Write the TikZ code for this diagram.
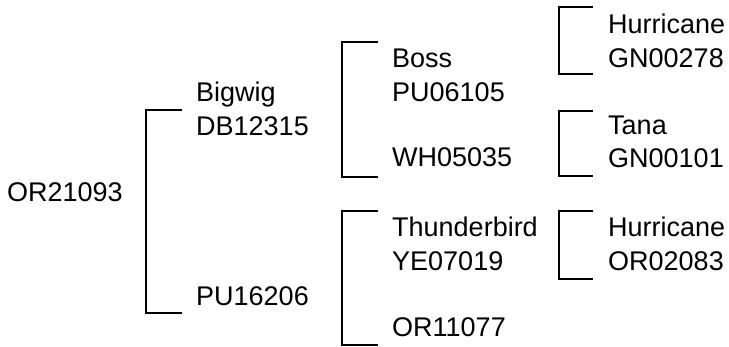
\documentclass[tikz,border=0pt]{standalone}
\usepackage{fontspec}
\setmainfont{Liberation Sans}
\usetikzlibrary{positioning}

\begin{document}
\begin{tikzpicture}[x=1pt,y=-1pt,
  lbl/.style={anchor=base west,inner sep=0pt,font=\fontsize{27}{34}\selectfont},
  bracket/.style={draw=black,line width=1.6pt}]
  \useasboundingbox (0,0) rectangle (729,347);

  \node[lbl] (or21093) at (7,202) {OR21093};

  \node[lbl] (bigwig) at (196,102) {Bigwig};
  \node[lbl] (db12315) at (196,136) {DB12315};
  \node[lbl] (pu16206) at (196,306) {PU16206};

  \node[lbl] (boss) at (392,68) {Boss};
  \node[lbl] (pu06105) at (392,102) {PU06105};
  \node[lbl] (wh05035) at (392,167) {WH05035};
  \node[lbl] (thunderbird) at (392,237) {Thunderbird};
  \node[lbl] (ye07019) at (392,271) {YE07019};
  \node[lbl] (or11077) at (392,337) {OR11077};

  \node[lbl] (hurricanea) at (608,34) {Hurricane};
  \node[lbl] (gn00278) at (608,68) {GN00278};
  \node[lbl] (tana) at (608,135) {Tana};
  \node[lbl] (gn00101) at (608,168) {GN00101};
  \node[lbl] (hurricaneb) at (608,237) {Hurricane};
  \node[lbl] (or02083) at (608,271) {OR02083};

  % bracket ends
  \coordinate (sireA) at (182,110);
  \coordinate (damA) at (182,313);
  \coordinate (sireB) at (378,42);
  \coordinate (damB) at (378,177);
  \coordinate (sireC) at (378,211);
  \coordinate (damC) at (378,345);
  \coordinate (sireD) at (593,7);
  \coordinate (damD) at (593,74);
  \coordinate (sireE) at (593,111);
  \coordinate (damE) at (593,176);
  \coordinate (sireF) at (593,211);
  \coordinate (damF) at (593,279);

  \draw[bracket] (sireA) -- ++(-36,0) |- (damA);
  \draw[bracket] (sireB) -- ++(-36,0) |- (damB);
  \draw[bracket] (sireC) -- ++(-36,0) |- (damC);
  \draw[bracket] (sireD) -- ++(-34,0) |- (damD);
  \draw[bracket] (sireE) -- ++(-34,0) |- (damE);
  \draw[bracket] (sireF) -- ++(-34,0) |- (damF);
\end{tikzpicture}
\end{document}
